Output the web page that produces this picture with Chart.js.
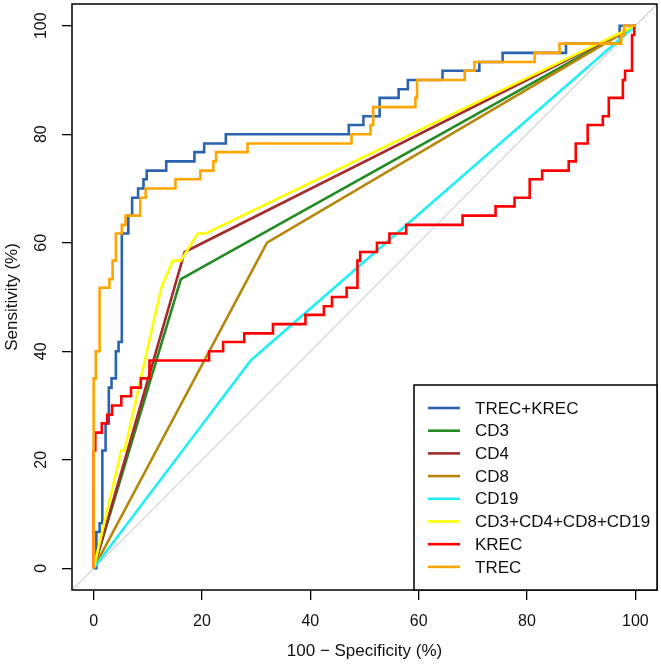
<!DOCTYPE html>
<html><head><meta charset="utf-8">
<script src="https://cdn.jsdelivr.net/npm/chart.js@4.4.1/dist/chart.umd.min.js"></script>
<style>html,body{margin:0;padding:0;background:#fff}canvas{display:block}</style>
</head><body>
<canvas id="c" width="661" height="664"></canvas>
<script>
const seriesNames = ["TREC+KREC","CD3","CD4","CD8","CD19","CD3+CD4+CD8+CD19","KREC","TREC"];
const seriesColors = ["#2C63B0","#228B22","#A52A2A","#B8860B","#22EEF6","#FFFF00","#FF0000","#FFA500"];
const xTicks = [0,20,40,60,80,100];
const yTicks = [0,20,40,60,80,100];
const xTitle = "100 \u2212 Specificity (%)";
const yTitle = "Sensitivity (%)";
const diagonal = [[-4,-4],[104,104]];

const trecKrec = [[0,0],[0.5,0],[0.5,6.7],[1.1,6.7],[1.1,8.3],[1.6,8.3],[1.6,21.7],[2.2,21.7],[2.2,26.7],[2.8,26.7],[2.8,33.3],[3.3,33.3],[3.3,35],[4.1,35],[4.1,40],[4.6,40],[4.6,41.7],[5.2,41.7],[5.2,61.7],[6.4,61.7],[6.4,65],[7.1,65],[7.1,68.3],[8.2,68.3],[8.2,70],[9.2,70],[9.2,71.7],[9.8,71.7],[9.8,73.3],[13.4,73.3],[13.4,75],[18.6,75],[18.6,76.7],[20.4,76.7],[20.4,78.3],[24.4,78.3],[24.4,80],[47.1,80],[47.1,81.7],[49.8,81.7],[49.8,83.3],[52.8,83.3],[52.8,86.7],[56.3,86.7],[56.3,88.3],[58.0,88.3],[58.0,90],[64.4,90],[64.4,91.7],[71.2,91.7],[71.2,93.3],[75.5,93.3],[75.5,95],[87.2,95],[87.2,96.7],[97.1,96.7],[97.1,100],[100,100]];
const cd3 = [[0,0],[16.1,53.3],[100,100]];
const cd4 = [[0,0],[16.8,58.3],[100,100]];
const cd8 = [[0,0],[32,60],[100,100]];
const cd19 = [[0,0],[29,38.3],[100,100]];
const cdAll = [[0,0],[5.1,21.7],[5.7,21.7],[12.1,50],[12.5,51.7],[14.6,56.7],[16.1,56.7],[19.2,61.7],[20.7,61.7],[100,100]];
const krec = [[0,0],[0,21.7],[0.3,21.7],[0.3,25],[1.5,25],[1.5,26.7],[2.5,26.7],[2.5,28.3],[3.4,28.3],[3.4,30],[5.1,30],[5.1,31.7],[6.9,31.7],[6.9,33.3],[8.7,33.3],[8.7,35],[10.3,35],[10.3,38.3],[21.3,38.3],[21.3,40],[23.9,40],[23.9,41.7],[27.8,41.7],[27.8,43.3],[33.1,43.3],[33.1,45],[39.1,45],[39.1,46.7],[42.5,46.7],[42.5,48.3],[44.0,48.3],[44.0,50],[46.7,50],[46.7,51.7],[48.7,51.7],[48.7,56.7],[49.2,56.7],[49.2,58.3],[52.3,58.3],[52.3,60],[54.6,60],[54.6,61.7],[57.7,61.7],[57.7,63.3],[68.1,63.3],[68.1,65],[74.2,65],[74.2,66.7],[77.7,66.7],[77.7,68.3],[80.5,68.3],[80.5,71.7],[82.8,71.7],[82.8,73.3],[87.7,73.3],[87.7,75],[89.0,75],[89.0,78.3],[91.2,78.3],[91.2,81.7],[94.0,81.7],[94.0,83.3],[95.1,83.3],[95.1,86.7],[97.7,86.7],[97.7,90],[98.1,90],[98.1,91.7],[99.4,91.7],[99.4,98.3],[99.8,98.3],[99.8,100],[100,100]];
const trec = [[0,0],[0,35],[0.4,35],[0.4,40],[1.1,40],[1.1,51.7],[2.9,51.7],[2.9,53.3],[3.5,53.3],[3.5,56.7],[4.1,56.7],[4.1,61.7],[5.2,61.7],[5.2,63.3],[5.9,63.3],[5.9,65],[8.6,65],[8.6,68.3],[9.6,68.3],[9.6,70],[15.1,70],[15.1,71.7],[19.7,71.7],[19.7,73.3],[22.1,73.3],[22.1,75],[22.6,75],[22.6,76.7],[28.4,76.7],[28.4,78.3],[47.6,78.3],[47.6,80],[51.1,80],[51.1,81.7],[51.6,81.7],[51.6,85],[59.4,85],[59.4,86.7],[59.7,86.7],[59.7,90],[68.5,90],[68.5,91.7],[70.3,91.7],[70.3,93.3],[81.4,93.3],[81.4,95],[86.0,95],[86.0,96.7],[97.4,96.7],[97.4,98.3],[97.9,98.3],[97.9,100],[100,100]];

const seriesData = [trecKrec, cd3, cd4, cd8, cd19, cdAll, krec, trec];
const FONT = '"Liberation Sans", Arial, Helvetica, sans-serif';

const datasets = [{
  label: "diagonal", data: diagonal.map(p=>({x:p[0],y:p[1]})),
  borderColor: "#BBBBBB", borderWidth: 1, showLine: true, pointRadius: 0, order: 100
}];
seriesData.forEach((d,i)=>{
  datasets.push({
    label: seriesNames[i], data: d.map(p=>({x:p[0],y:p[1]})),
    borderColor: seriesColors[i], backgroundColor: seriesColors[i],
    borderWidth: 2.6, showLine: true, pointRadius: 0, tension: 0, order: 50 - i,
    borderJoinStyle: 'miter', borderCapStyle: 'butt'
  });
});

const decor = {
  id: 'decor',
  afterDraw(chart){
    const {ctx, chartArea: a, scales: {x, y}} = chart;
    ctx.save();
    ctx.strokeStyle = '#000'; ctx.lineWidth = 1.5;
    ctx.strokeRect(a.left, a.top, a.right - a.left, a.bottom - a.top);
    ctx.fillStyle = '#111';
    ctx.font = '16px ' + FONT;
    ctx.textAlign = 'center'; ctx.textBaseline = 'middle';
    xTicks.forEach(v => ctx.fillText(String(v), x.getPixelForValue(v), a.bottom + 32));
    yTicks.forEach(v => {
      ctx.save(); ctx.translate(a.left - 30, y.getPixelForValue(v)); ctx.rotate(-Math.PI/2);
      ctx.fillText(String(v), 0, 0); ctx.restore();
    });
    ctx.font = '17px ' + FONT;
    ctx.fillText(xTitle, (a.left + a.right)/2, a.bottom + 61);
    ctx.save(); ctx.translate(a.left - 60, (a.top + a.bottom)/2); ctx.rotate(-Math.PI/2);
    ctx.fillText(yTitle, 0, 0); ctx.restore();
    // legend
    const lw = 243, lh = 205;
    const lx = a.right - lw, ly = a.bottom - lh;
    ctx.fillStyle = '#fff'; ctx.fillRect(lx, ly, lw, lh);
    ctx.strokeStyle = '#000'; ctx.lineWidth = 1.5; ctx.strokeRect(lx, ly, lw, lh);
    ctx.font = '17px ' + FONT; ctx.textAlign = 'left'; ctx.fillStyle = '#111';
    seriesNames.forEach((n, i) => {
      const ry = ly + 23 + i * 22.7;
      ctx.strokeStyle = seriesColors[i]; ctx.lineWidth = 2.6;
      ctx.beginPath(); ctx.moveTo(lx + 14, ry); ctx.lineTo(lx + 46, ry); ctx.stroke();
      ctx.fillText(n, lx + 61, ry + 1);
    });
    ctx.restore();
  }
};

const tickSetter = (scale) => { scale.ticks = xTicks.map(v => ({value: v})); };

new Chart(document.getElementById('c'), {
  type: 'scatter',
  data: { datasets },
  options: {
    responsive: false, animation: false, events: [],
    layout: { padding: { left: 62, right: 4, top: 4, bottom: 64 } },
    plugins: { legend: { display: false }, tooltip: { enabled: false } },
    scales: {
      x: { type: 'linear', min: -4, max: 104, afterBuildTicks: tickSetter,
           ticks: { display: false },
           grid: { drawOnChartArea: false, drawTicks: true, tickLength: 10, color: '#000', lineWidth: 1.3 },
           border: { display: false } },
      y: { type: 'linear', min: -4, max: 104, afterBuildTicks: (s) => { s.ticks = yTicks.map(v => ({value: v})); },
           ticks: { display: false },
           grid: { drawOnChartArea: false, drawTicks: true, tickLength: 10, color: '#000', lineWidth: 1.3 },
           border: { display: false } }
    }
  },
  plugins: [decor]
});
</script>
</body></html>
